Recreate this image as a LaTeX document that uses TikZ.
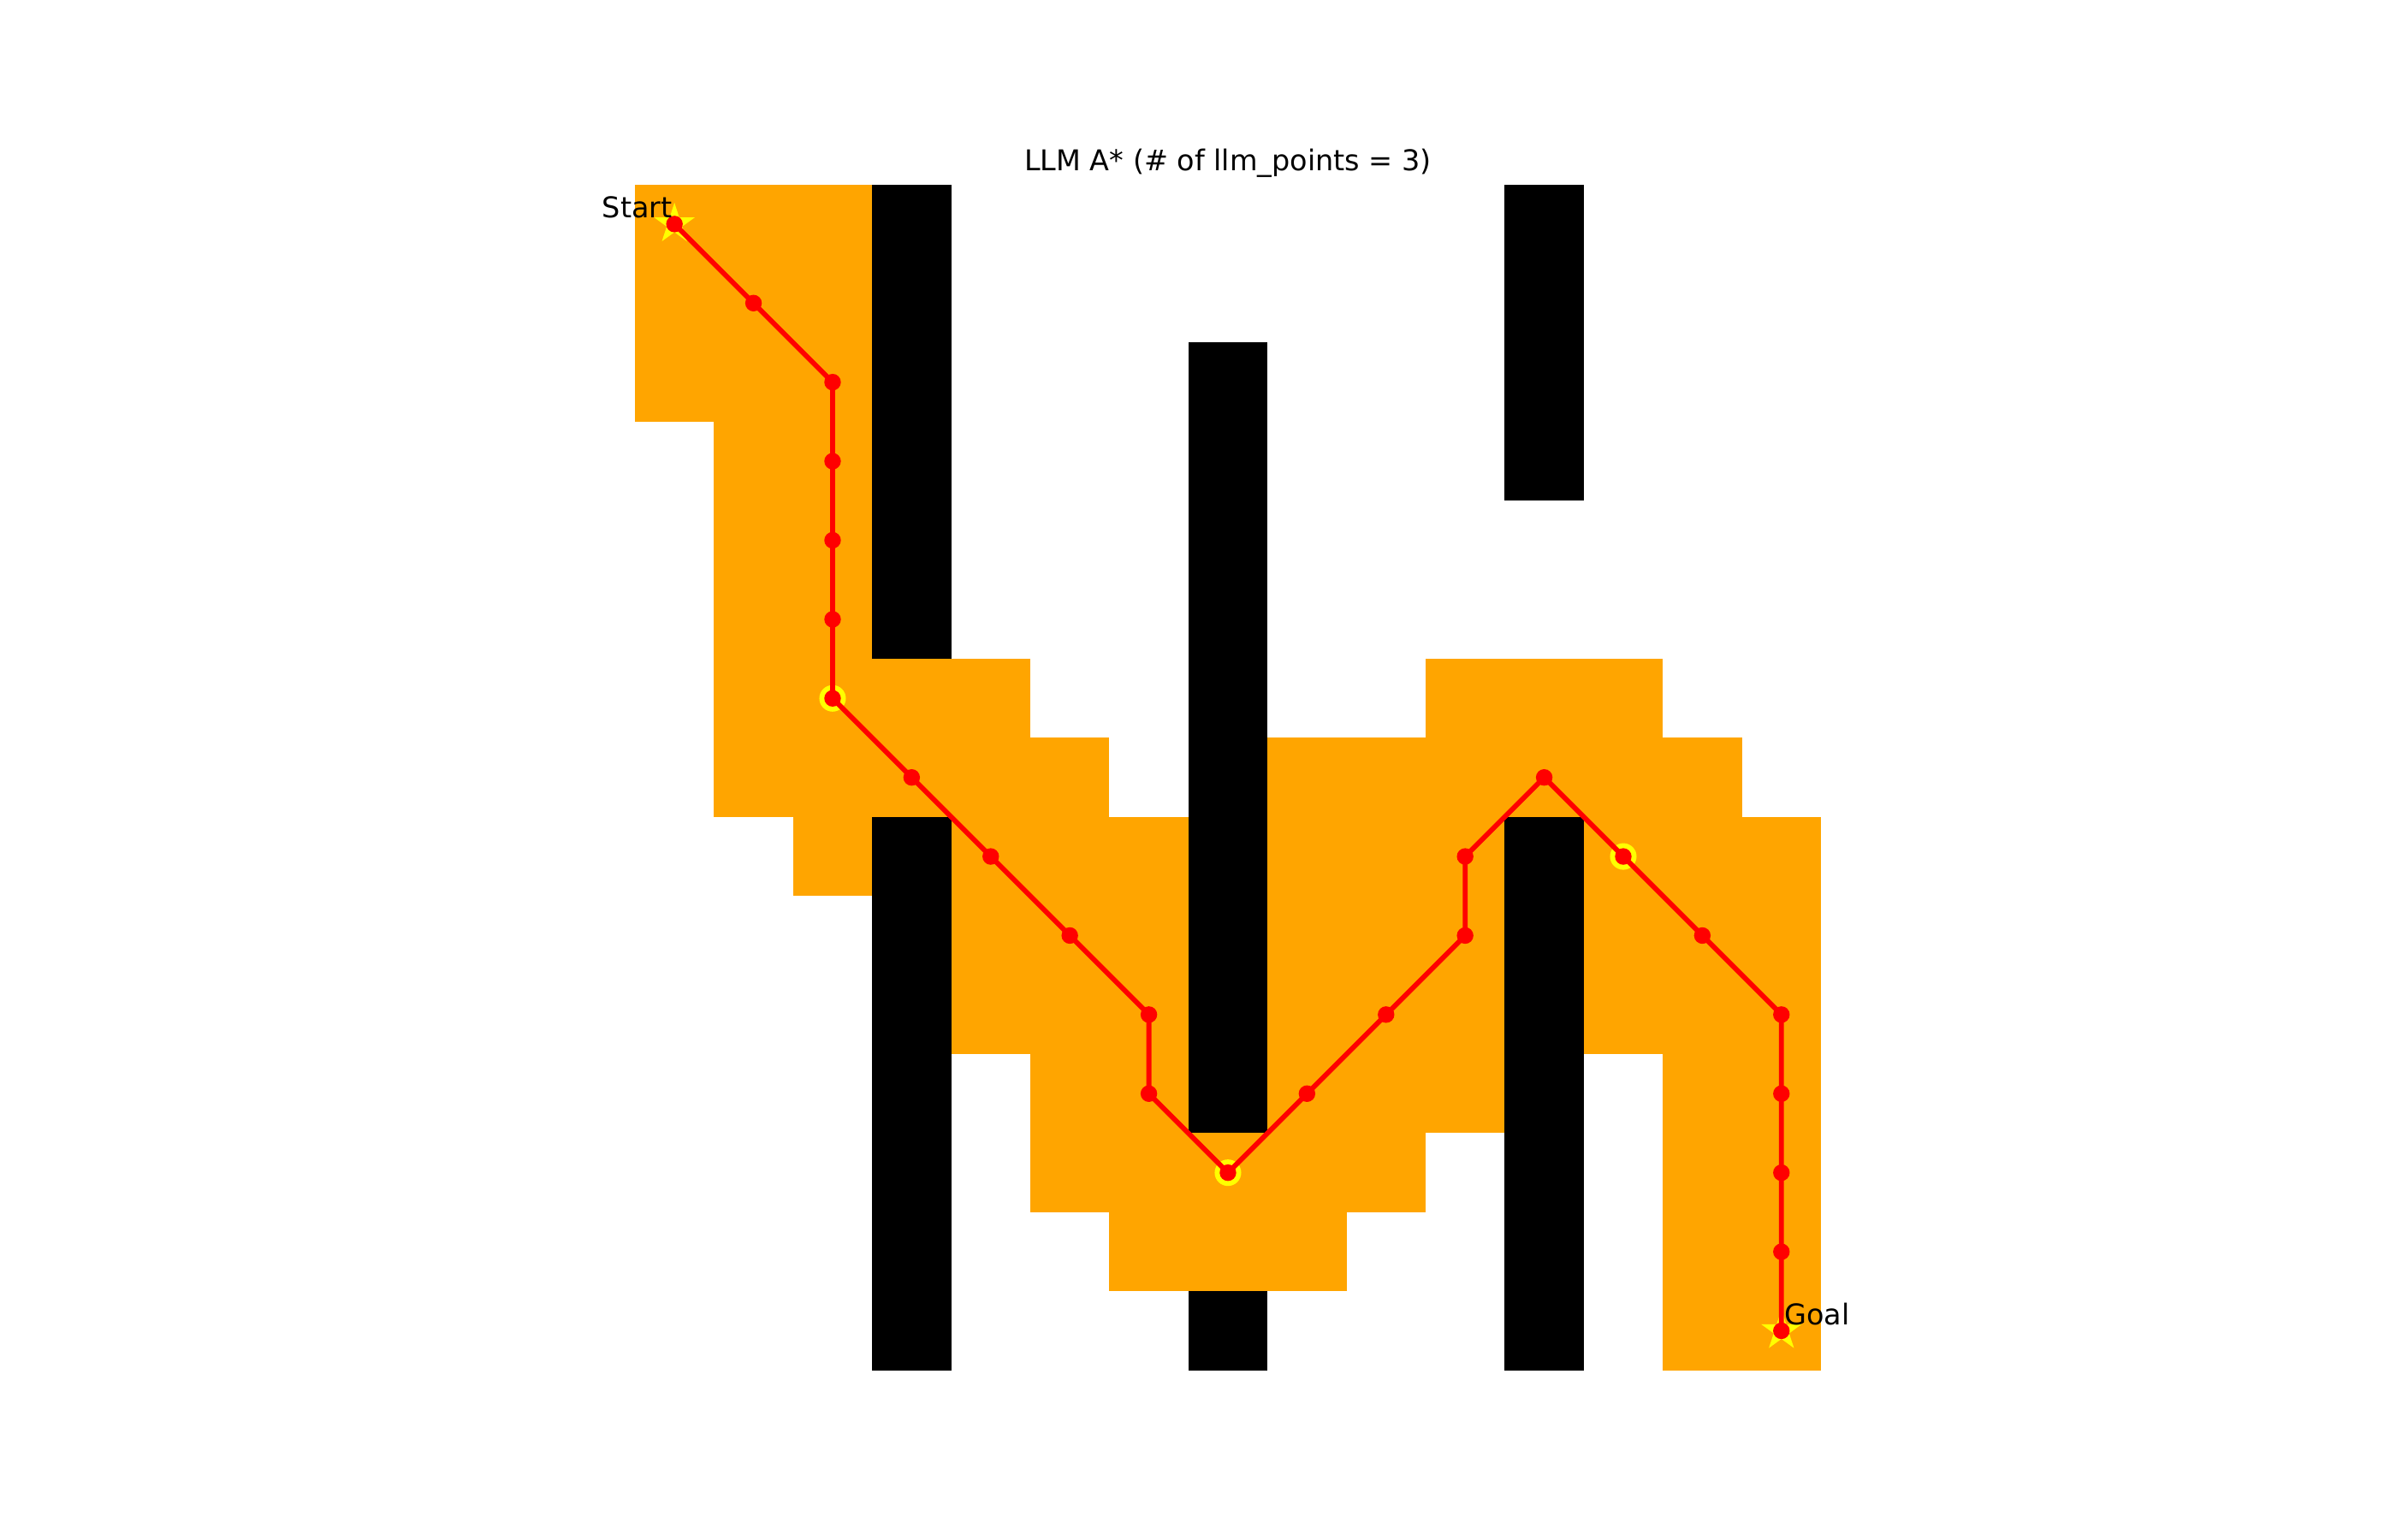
\documentclass[tikz,border=0pt]{standalone}
\usepackage{fontspec}
\setmainfont{DejaVu Sans}
\definecolor{mplorange}{HTML}{FFA500}
\definecolor{mplred}{HTML}{FF0000}
\definecolor{mplyellow}{HTML}{FFFF00}
\tikzset{
  explored/.style={fill=mplorange},
  wall/.style={fill=black},
  pathline/.style={draw=mplred, line width=1.8pt, line join=round},
  dotmark/.style={fill=mplred},
  ringmark/.style={fill=mplyellow},
  lbl/.style={font=\fontsize{10.3}{12}\selectfont, inner sep=0pt},
}
\begin{document}
\begin{tikzpicture}[x=1cm,y=-1cm]
\useasboundingbox (-8.030,-2.334) rectangle (22.273,17.146);
% explored cells
\foreach \c/\a/\b in {0/0/2,1/0/7,2/0/8,3/6/7,4/6/10,5/7/12,6/8/13,7/12/13,8/7/13,9/7/12,10/6/11,11/6/7,12/6/10,13/7/14,14/8/14}
  \fill[explored] (\c,\a) rectangle (\c+1,\b+1);
% obstacles
\foreach \c/\a/\b in {3/0/5,3/8/14,7/2/11,7/14/14,11/0/3,11/8/14}
  \fill[wall] (\c,\a) rectangle (\c+1,\b+1);
% path coordinates
\foreach \n/\c/\r in {1/0/0,2/1/1,3/2/2,4/2/3,5/2/4,6/2/5,7/2/6,8/3/7,9/4/8,10/5/9,11/6/10,12/6/11,13/7/12,14/8/11,15/9/10,16/10/9,17/10/8,18/11/7,19/12/8,20/13/9,21/14/10,22/14/11,23/14/12,24/14/13,25/14/14}
  \coordinate (p\n) at (\c+0.5,\r+0.5);
% start and goal stars
\foreach \s in {p1,p25}
  \fill[mplyellow, shift={(\s)}] (-90:0.27) -- (-54:0.103) -- (-18:0.27) -- (18:0.103) -- (54:0.27) -- (90:0.103) -- (126:0.27) -- (162:0.103) -- (198:0.27) -- (234:0.103) -- cycle;
% llm points (rings)
\foreach \s in {p7,p13,p19}
  \fill[ringmark] (\s) circle (0.168);
% path
\draw[pathline] (p1) \foreach \n in {2,...,25}{ -- (p\n) };
\foreach \n in {1,...,25}
  \fill[dotmark] (p\n) circle (0.105);
% labels
\node[lbl, anchor=base east] (startlbl) at (0.48,0.425) {Start};
\node[lbl, anchor=base west] (goallbl) at (14.53,14.42) {Goal};
\node[lbl, anchor=base] (title) at (7.5,-0.177) {LLM A* (\# of llm\_points = 3)};
\end{tikzpicture}
\end{document}
